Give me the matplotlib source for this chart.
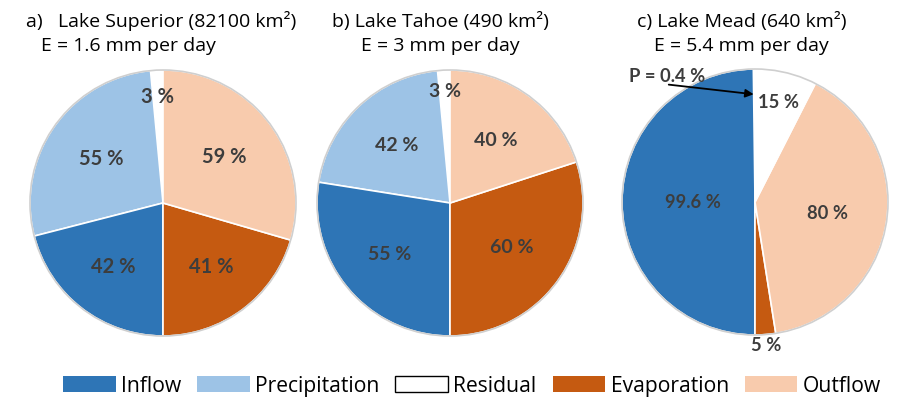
import matplotlib.pyplot as plt
from matplotlib.patches import Patch, Circle
import numpy as np

plt.rcParams['font.family'] = ['Lato', 'DejaVu Sans']

# colours of the water budget terms
colors = {
    'Inflow': '#2E75B6',
    'Precipitation': '#9DC3E6',
    'Residual': '#FFFFFF',
    'Evaporation': '#C55A11',
    'Outflow': '#F8CBAD',
}

# each pie: inputs on the left half (100 %), outputs on the right half (100 %)
# terms listed counter-clockwise starting at 12 o'clock
superior_terms = ['Residual', 'Precipitation', 'Inflow', 'Evaporation', 'Outflow']
superior_vals = [3, 55, 42, 41, 59]

tahoe_terms = ['Residual', 'Precipitation', 'Inflow', 'Evaporation', 'Outflow']
tahoe_vals = [3, 42, 55, 60, 40]

mead_terms = ['Precipitation', 'Inflow', 'Evaporation', 'Outflow', 'Residual']
mead_vals = [0.4, 99.6, 5, 80, 15]

titles = ['a)   Lake Superior (82100 km²)', 'b) Lake Tahoe (490 km²)', 'c) Lake Mead (640 km²)']
subtitles = ['E = 1.6 mm per day', 'E = 3 mm per day', 'E = 5.4 mm per day']

W, H = 906, 411
fig = plt.figure(figsize=(W / 100, H / 100), dpi=100)

R = 133  # pie radius in px
half = 150


def make_ax(cx, cy):
    ax = fig.add_axes([(cx - half) / W, (H - cy - half) / H, 2 * half / W, 2 * half / H])
    return ax


def draw_pie(ax, terms, vals, lab_r, fsize, skip=()):
    wedges, _ = ax.pie(vals, colors=[colors[t] for t in terms], startangle=90,
                       counterclock=True, radius=1,
                       wedgeprops=dict(edgecolor='white', linewidth=1.2))
    lim = half / R
    ax.set_xlim(-lim, lim)
    ax.set_ylim(-lim, lim)
    ax.set_aspect('equal')
    ax.set_axis_off()
    ax.add_patch(Circle((0, 0), 1, facecolor='none', edgecolor='#cfcfcf', lw=1.2, zorder=3))
    for i, (w, v) in enumerate(zip(wedges, vals)):
        if i in skip:
            continue
        a = np.deg2rad((w.theta1 + w.theta2) / 2)
        r = lab_r[i]
        ax.text(r * np.cos(a), r * np.sin(a), f'{v:g} %', ha='center', va='center',
                fontsize=fsize, fontweight='bold', color='#3d3d3d', zorder=4)


ax1 = make_ax(163, 203)
draw_pie(ax1, superior_terms, superior_vals, [0.8, 0.57, 0.61, 0.6, 0.58], 14.5)

ax2 = make_ax(450, 203)
draw_pie(ax2, tahoe_terms, tahoe_vals, [0.84, 0.59, 0.6, 0.57, 0.58], 14)

ax3 = make_ax(755, 202)
draw_pie(ax3, mead_terms, mead_vals, [0, 0.47, 1.08, 0.55, 0.77], 13.2, skip=(0,))
ax3.annotate(f'P = {mead_vals[0]:g} %', xy=(-0.01, 0.81), xytext=(-0.66, 0.94),
             ha='center', va='center', fontsize=13.2, fontweight='bold', color='#3d3d3d',
             arrowprops=dict(arrowstyle='-|>', color='black', lw=1.3, relpos=(0.52, 0.05),
                             patchA=None, shrinkA=0, shrinkB=0, mutation_scale=12), zorder=5)

# titles
title_x = [161, 440, 742]
sub_x = [128, 440, 741]
for t, s, tx, sx in zip(titles, subtitles, title_x, sub_x):
    fig.text(tx / W, 1 - 21 / H, t, ha='center', va='center', fontsize=14,
             family='Open Sans', color='black')
    fig.text(sx / W, 1 - 46 / H, s, ha='center', va='center', fontsize=14,
             family='Open Sans', color='black')

# legend
handles = []
for name, c in colors.items():
    if name == 'Residual':
        handles.append(Patch(facecolor=c, edgecolor='black', linewidth=1, label=name))
    else:
        handles.append(Patch(facecolor=c, edgecolor='none', label=name))
fig.legend(handles=handles, loc='center', bbox_to_anchor=(472 / W, 25 / H), ncol=5,
           frameon=False, prop={'family': 'Open Sans', 'size': 15.2},
           handlelength=2.5, handleheight=0.8, handletextpad=0.25, columnspacing=0.75)

fig.savefig('out.png', dpi=100)
